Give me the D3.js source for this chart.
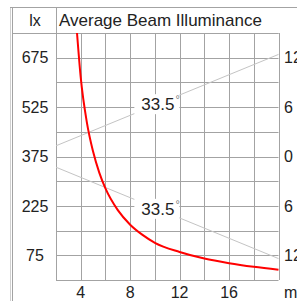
<!DOCTYPE html>
<html>
<head>
<meta charset="utf-8">
<script src="https://cdn.jsdelivr.net/npm/d3@7"></script>
<style>
  body { margin: 0; background: #fff; }
  text { font-family: "Liberation Sans", Arial, sans-serif; fill: #222; }
</style>
</head>
<body>
<div id="container"></div>
<script>
let width = 297
let height = 301

// plot box inside the frame
margin = ({ top: 33, right: 18, bottom: 21, left: 56 })

// illuminance curve
const distance = [3.7, 4, 4.5, 5, 5.5, 6, 7, 8, 9, 10, 12, 14, 16, 18, 20]
const lux = [750, 615, 478, 390, 326, 278, 212, 168, 137, 113, 85, 65, 51, 40, 31]

// beam edge (diameter in m) at both ends of the range
const beamDist = [2, 20]
const beamWidth = [1.3, 12.4]
const beamAngle = "33.5"

const xTicks = [4, 8, 12, 16]
const yTicks = [75, 225, 375, 525, 675]
const y2Ticks = [12, 6, 0, -6, -12]

let x = d3.scaleLinear()
    .domain([2, 20])
    .range([margin.left, width - margin.right - 0.5])

let y = d3.scaleLinear()
    .domain([0, 750])
    .range([height - margin.bottom, margin.top])

// right axis: beam size, 0 sits at 375 lx
let y2 = d3.scaleLinear()
    .domain([-15, 15])
    .range([height - margin.bottom, margin.top])

let svg = d3.select("#container")
    .append("svg")
    .attr("width", width)
    .attr("height", height)

const gridColor = "#a3a3a3"

// frame
svg.append("line").attr("x1", 10.5).attr("x2", 10.5).attr("y1", 7).attr("y2", height)
    .attr("stroke", "#d0d0d0")
svg.append("line").attr("x1", 12.5).attr("x2", 12.5).attr("y1", 7).attr("y2", height)
    .attr("stroke", gridColor)
svg.append("line").attr("x1", 10).attr("x2", width).attr("y1", 7.5).attr("y2", 7.5)
    .attr("stroke", gridColor)
svg.append("line").attr("x1", 12).attr("x2", x(20)).attr("y1", 33.5).attr("y2", 33.5)
    .attr("stroke", gridColor)
svg.append("line").attr("x1", 56.5).attr("x2", 56.5).attr("y1", 7).attr("y2", y(0))
    .attr("stroke", gridColor)

// grid
svg.append("g")
    .selectAll("line")
    .data(d3.range(2, 20.1, 2))
    .join("line")
    .attr("x1", d => Math.round(x(d)) + 0.5)
    .attr("x2", d => Math.round(x(d)) + 0.5)
    .attr("y1", y(750))
    .attr("y2", y(0))
    .attr("stroke", gridColor)

svg.append("g")
    .selectAll("line")
    .data(d3.range(0, 751, 75))
    .join("line")
    .attr("x1", x(2))
    .attr("x2", x(20))
    .attr("y1", d => Math.round(y(d)) + 0.5)
    .attr("y2", d => Math.round(y(d)) + 0.5)
    .attr("stroke", gridColor)

// header
svg.append("text")
    .attr("x", 35)
    .attr("y", 26)
    .attr("text-anchor", "middle")
    .style("font-size", "16px")
    .text("lx")

svg.append("text")
    .attr("x", 59)
    .attr("y", 26)
    .style("font-size", "17px")
    .text("Average Beam Illuminance")

// left axis labels
svg.append("g")
    .selectAll("text")
    .data(yTicks)
    .join("text")
    .attr("x", 35)
    .attr("y", d => y(d))
    .attr("dy", "0.36em")
    .attr("text-anchor", "middle")
    .style("font-size", "16px")
    .text(d => d)

// right axis labels (cut by the window, as in the original)
svg.append("g")
    .selectAll("text")
    .data(y2Ticks)
    .join("text")
    .attr("x", 284)
    .attr("y", d => y2(d))
    .attr("dy", "0.36em")
    .style("font-size", "16px")
    .text(d => Math.abs(d))

// bottom labels
svg.append("g")
    .selectAll("text")
    .data(xTicks)
    .join("text")
    .attr("x", d => x(d))
    .attr("y", 298)
    .attr("text-anchor", "middle")
    .style("font-size", "16px")
    .text(d => d)

svg.append("text")
    .attr("x", 284)
    .attr("y", 298)
    .style("font-size", "16px")
    .text("m")

// beam edges
const beam = [1, -1]
const widthAt = d3.scaleLinear().domain(beamDist).range(beamWidth)

svg.append("g")
    .selectAll("line")
    .data(beam)
    .join("line")
    .attr("x1", x(beamDist[0]))
    .attr("x2", x(beamDist[1]))
    .attr("y1", s => y2(s * beamWidth[0]))
    .attr("y2", s => y2(s * beamWidth[1]))
    .attr("stroke", "#c4c4c4")
    .attr("stroke-width", 1)

// illuminance curve
let line = d3.line()
    .x((d, i) => x(distance[i]))
    .y(d => y(d))
    .curve(d3.curveMonotoneX)

svg.append("path")
    .datum(lux)
    .attr("fill", "none")
    .attr("stroke", "#ff0000")
    .attr("stroke-width", 2)
    .attr("d", line)

// angle labels sitting on the beam lines
const labelDist = 10.2
const labels = svg.append("g")
    .selectAll("g")
    .data(beam)
    .join("g")
    .attr("transform", s => `translate(${x(labelDist)},${y2(s * widthAt(labelDist))})`)

labels.append("rect")
    .attr("x", -23)
    .attr("y", -10)
    .attr("width", 45)
    .attr("height", 20)
    .attr("fill", "#fff")

labels.append("text")
    .attr("x", -16)
    .attr("dy", "0.36em")
    .style("font-size", "17px")
    .text(beamAngle)
    .append("tspan")
    .attr("dx", 1)
    .attr("dy", -7)
    .style("font-size", "11px")
    .style("fill", "#777")
    .text("°")
</script>
</body>
</html>
